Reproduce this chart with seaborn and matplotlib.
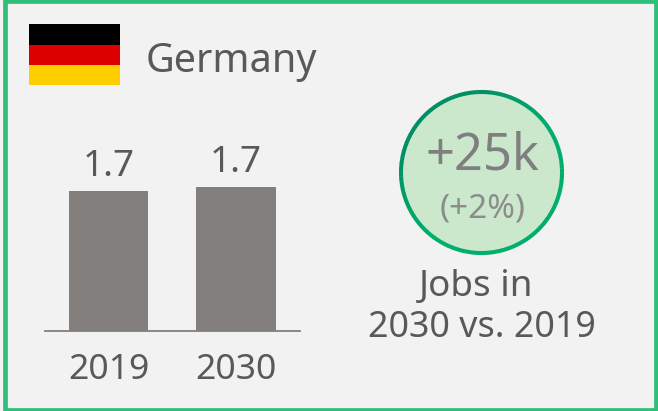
import matplotlib
matplotlib.use("Agg")
import matplotlib.pyplot as plt
import seaborn as sns
import pandas as pd
import numpy as np
from matplotlib.colors import to_rgb
from matplotlib.patches import Rectangle, Circle, Arc

years = ["2019", "2030"]
jobs = [1.68, 1.73]
title = "Germany"
delta = "+25k"
delta_pct = "(+2%)"
caption = "Jobs in\n2030 vs. 2019"

W, H = 658, 411
GREY = "#595959"
sns.set_theme(style="white")
plt.rcParams["font.family"] = ["Noto Sans", "DejaVu Sans"]

fig = plt.figure(figsize=(W / 100, H / 100), dpi=100, facecolor="#f2f2f2")

bg = fig.add_axes([0, 0, 1, 1], zorder=0)
bg.set_xlim(0, W); bg.set_ylim(H, 0); bg.axis("off")
bg.add_patch(Rectangle((4.5, 1.2), 651.5, 408.3, fill=False, ec="#2FBF7B", lw=3.4))
for y0, y1, c in [(24, 45, "#000000"), (45, 65, "#DD0000"), (65, 85, "#FFCE00")]:
    bg.add_patch(Rectangle((29, y0), 91, y1 - y0, fc=c, ec="none"))
bg.text(146, 72, title, fontsize=28.5, color=GREY, va="baseline", ha="left")

cx, cy, r = 481.5, 172.5, 80.5
bg.add_patch(Circle((cx, cy), r, fc="#CBE8CD", ec="none"))
dark, light = np.array(to_rgb("#008F62")), np.array(to_rgb("#00AE6C"))
for a in range(0, 360, 3):
    # stroke fades from dark (upper left) to light (lower right); y axis points down
    f = np.clip((abs(((a + 1.5 - 230) + 180) % 360 - 180) - 40) / 60, 0, 1)
    bg.add_patch(Arc((cx, cy), 2 * r, 2 * r, theta1=a, theta2=a + 3.3,
                     ec=tuple(dark + (light - dark) * f), lw=2.9, capstyle="butt"))
bg.text(cx + 1, 169.5, delta, fontsize=36.5, color="#7F7F7F", ha="center", va="baseline")
bg.text(cx + 1, 217.5, delta_pct, fontsize=24, color="#8C8C8C", ha="center", va="baseline")
bg.text(cx - 5, 295.5, caption.split("\n")[0], fontsize=26.5, color=GREY, ha="center", va="baseline")
bg.text(cx, 337, caption.split("\n")[1], fontsize=25.8, color=GREY, ha="center", va="baseline")

top_px, base_px, left_px, right_px = 100, 331, 44.8, 299.8
ax = fig.add_axes([left_px / W, 1 - base_px / H, (right_px - left_px) / W, (base_px - top_px) / H], zorder=1)
ax.patch.set_alpha(0)
df = pd.DataFrame({"year": years, "jobs": jobs})
sns.barplot(data=df, x="year", y="jobs", color="#827F7C", saturation=1, width=0.622, linewidth=0, ax=ax)
ax.set_xlim(-0.5, 1.5)
ax.set_ylim(0, 1.68 * (base_px - top_px) / 140)
ax.set_xlabel(""); ax.set_ylabel(""); ax.set_yticks([])
for s in ["top", "left", "right"]:
    ax.spines[s].set_visible(False)
ax.spines["bottom"].set_color("#7F7F7F")
ax.spines["bottom"].set_linewidth(1.3)
ax.tick_params(axis="x", length=0, pad=16, labelsize=25.5, labelcolor=GREY)
ax.bar_label(ax.containers[0], fmt="%.1f", fontsize=26.5, color=GREY, padding=4.5)

fig.savefig("out.png", dpi=100, facecolor=fig.get_facecolor())
